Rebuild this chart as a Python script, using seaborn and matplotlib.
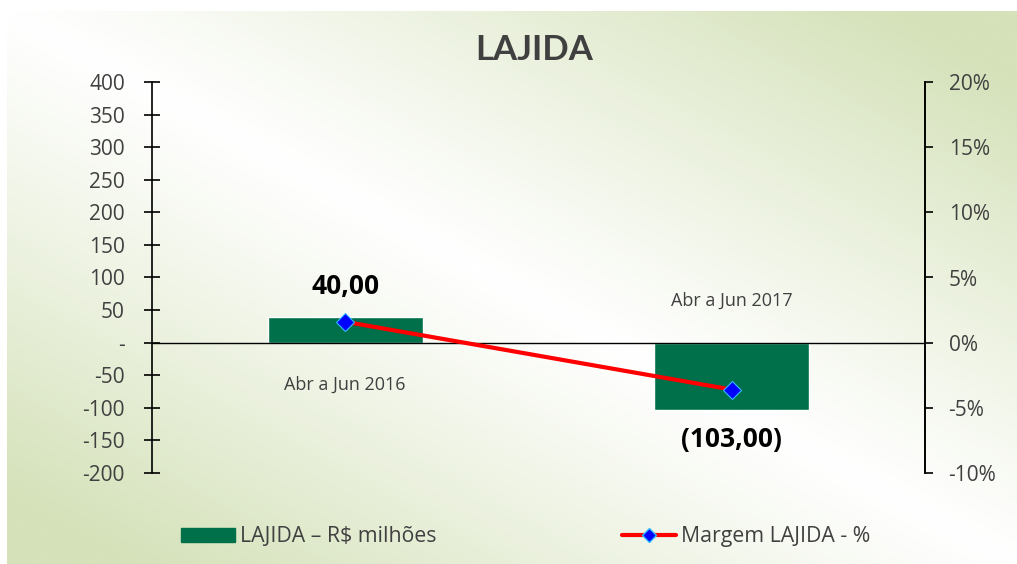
import numpy as np
import pandas as pd
import matplotlib.pyplot as plt
import seaborn as sns
from matplotlib.colors import LinearSegmentedColormap
from matplotlib.patches import Patch
from matplotlib.lines import Line2D

categorias = ['Abr a Jun 2016', 'Abr a Jun 2017']
lajida = [40.0, -103.0]          # R$ milhoes
margem = [0.016, -0.036]         # margem LAJIDA

sns.set_style('white')
plt.rcParams['font.family'] = ['Open Sans', 'DejaVu Sans']

cor_barra = '#00704a'
cor_texto = '#404040'

fig = plt.figure(figsize=(10.17, 5.64), dpi=100)

# fundo em degrade (verde nos cantos sup. direito / inf. esquerdo)
bg = fig.add_axes([7 / 1017, 0, 1 - 7 / 1017, 1 - 11 / 564], zorder=-10)
xx, yy = np.meshgrid(np.linspace(0, 1, 400), np.linspace(0, 1, 300))
t = np.clip(np.abs(xx - yy) * 1.15, 0, 1) ** 1.1
cmap_bg = LinearSegmentedColormap.from_list('bg', ['#ffffff', '#d5e2ba'])
bg.imshow(t, cmap=cmap_bg, aspect='auto', extent=[0, 1, 0, 1], vmin=0, vmax=1)
bg.axis('off')

ax = fig.add_axes([152 / 1017, 1 - 473 / 564, (925 - 152) / 1017, (473 - 82) / 564])
ax.set_facecolor('none')

df = pd.DataFrame({'periodo': categorias, 'lajida': lajida, 'margem': margem})
sns.barplot(data=df, x='periodo', y='lajida', color=cor_barra, width=0.4,
            saturation=1, ax=ax, zorder=2)
ax.set_xlim(-0.5, 1.5)
ax.set_ylim(-200, 400)
ax.set_yticks(np.arange(-200, 401, 50))
ax.set_yticklabels(['-' if v == 0 else f'{v:.0f}' for v in np.arange(-200, 401, 50)])
ax.set_xticks([])
ax.set_xlabel('')
ax.set_ylabel('')
ax.axhline(0, color='black', lw=1, zorder=3)
for s in ['top', 'bottom']:
    ax.spines[s].set_visible(False)
for s in ['left', 'right']:
    ax.spines[s].set_color('black')
    ax.spines[s].set_linewidth(1.2)
ax.tick_params(axis='y', direction='inout', length=11, width=1.2, color='black',
               labelsize=15, labelcolor=cor_texto, pad=14, left=True)

# rotulos de categoria e de valor
for i, v in enumerate(lajida):
    s = 1 if v >= 0 else -1
    ax.text(i, -s * 64, categorias[i], ha='center', va='center',
            fontsize=13, color=cor_texto)
    txt = f'{abs(v):.2f}'.replace('.', ',')
    if v < 0:
        txt = f'({txt})'
    ax.text(i, v + s * 46, txt, ha='center', va='center', fontsize=19,
            fontweight='bold', color='black')

ax2 = ax.twinx()
ax2.set_position(ax.get_position())
sns.lineplot(x=[0, 1], y=margem, ax=ax2, color='red', lw=3, marker='D',
             markersize=9, markerfacecolor='#0000ff', markeredgecolor='#33bbff',
             markeredgewidth=0.8, zorder=4)
ax2.set_ylim(-0.10, 0.20)
pct = np.arange(-0.10, 0.201, 0.05)
ax2.set_yticks(pct)
ax2.set_yticklabels([f'{round(p * 100):d}%' for p in pct])
ax2.set_ylabel('')
for s in ['top', 'bottom', 'left']:
    ax2.spines[s].set_visible(False)
ax2.spines['right'].set_color('black')
ax2.spines['right'].set_linewidth(1.2)
ax2.tick_params(axis='y', direction='out', length=6, width=1.2, color='black',
                labelsize=15, labelcolor=cor_texto, pad=11, right=True)

fig.text(0.525, 0.912, 'LAJIDA', ha='center', va='center', fontsize=25,
         fontweight='bold', color=cor_texto, family=['Lato', 'DejaVu Sans'])

h_barra = [Patch(color=cor_barra, label='LAJIDA – R$ milhões')]
h_linha = [Line2D([], [], color='red', lw=3, marker='D', markersize=7,
                  markerfacecolor='#0000ff', markeredgecolor='#33bbff',
                  label='Margem LAJIDA - %')]
leg1 = fig.legend(handles=h_barra, loc='center left', bbox_to_anchor=(162 / 1017, 0.048),
                  frameon=False, fontsize=15.3, handlelength=2.55, handleheight=0.7,
                  handletextpad=0.2, labelcolor=cor_texto)
leg2 = fig.legend(handles=h_linha, loc='center left', bbox_to_anchor=(603 / 1017, 0.048),
                  frameon=False, fontsize=15.3, handlelength=2.55,
                  handletextpad=0.2, labelcolor=cor_texto)

fig.savefig('out.png', dpi=100)
